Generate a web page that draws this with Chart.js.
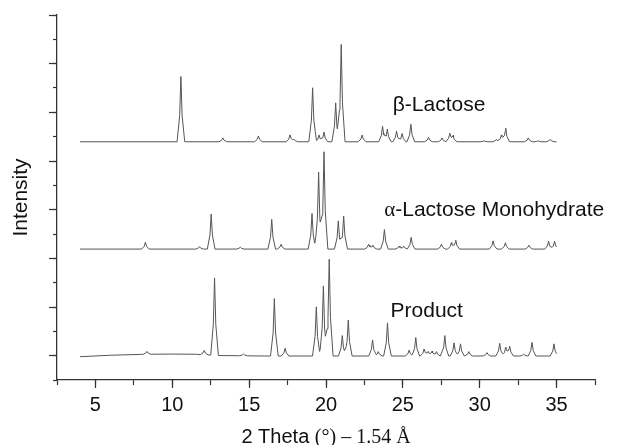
<!DOCTYPE html>
<html>
<head>
<meta charset="utf-8">
<script src="https://cdn.jsdelivr.net/npm/chart.js@4.4.1/dist/chart.umd.min.js"></script>
<style>
  html, body { margin: 0; padding: 0; background: #fff; }
  #wrap { width: 617px; height: 445px; }
</style>
</head>
<body>
<div id="wrap"><canvas id="xrdChart"></canvas></div>
<script>
// scan range (2 theta, degrees)
const scanStart = 4;
const scanEnd = 35;

// peak positions (2 theta) and heights (strongest peak ~ 100)
const productPeaks   = [8.35, 12.08, 12.75, 14.63, 16.64, 17.34, 19.37, 19.83, 20.21, 21.06, 21.45, 23.03, 23.40, 24.00, 25.41, 25.84, 26.38, 26.64, 26.90, 27.19, 27.73, 28.33, 28.75, 29.29, 30.47, 31.30, 31.69, 31.95, 32.86, 33.40, 34.83];
const productHeights = [3, 4.5, 79.5, 2, 59, 8, 50.5, 72, 99.5, 21, 37, 16.5, 4.5, 34, 6, 19, 7, 4.5, 5, 4.5, 21, 13.5, 12.5, 4.5, 3.5, 13, 9, 10, 2, 14, 12.5];
// product background (slight amorphous hump at low angle)
const productBgX = [4, 6, 8, 10, 11.5, 13, 16, 35];
const productBgY = [-0.7, 0.8, 1.7, 2, 1.8, 0.5, 0, 0];

const alphaPeaks   = [8.25, 11.77, 12.53, 14.42, 16.47, 17.08, 19.09, 19.52, 19.87, 20.80, 21.15, 22.77, 23.05, 23.80, 24.75, 25.06, 25.54, 27.51, 28.16, 28.44, 30.87, 31.67, 33.20, 34.48, 34.87];
const alphaHeights = [7, 2.5, 36, 2, 30.5, 5, 36.5, 79, 100, 29, 34, 5, 4, 20, 3, 3, 12, 5, 6.5, 9, 8.5, 6.5, 4, 8, 8];

const betaPeaks   = [10.56, 13.29, 15.60, 17.66, 17.92, 19.13, 19.55, 19.87, 20.63, 20.99, 22.35, 23.68, 23.99, 24.59, 24.95, 25.52, 26.67, 27.55, 28.05, 28.27, 30.28, 31.08, 31.41, 31.69, 33.16, 33.79, 34.58];
const betaHeights = [67, 4, 6, 7, 2.5, 55.5, 7, 10, 40, 100, 7, 16, 13, 11, 8.5, 18, 4.5, 4, 8.5, 6, 1, 2.5, 7, 14, 4, 1, 2.5];

const flatBgX = [4, 35];
const flatBgY = [0, 0];

const traceNames = ['Product', 'α-Lactose Monohydrate', 'β-Lactose'];
const traceOffsets = [0.986, 5.38, 9.79];   // stacking offset, axis units
const countsPerUnit = 25;

const xTickLabels = [5, 10, 15, 20, 25, 30, 35];
const yMajorTicks = [1, 3, 5, 7, 9, 11, 13, 15];

// peak profile (narrow tip, wider foot)
const shapeDx = [-0.25, -0.08, 0, 0.08, 0.25];
const shapeFrac = [0, 0.4, 1, 0.4, 0];

const SANS = "'Liberation Sans', Arial, sans-serif";
const SERIF = "'Liberation Serif', 'Times New Roman', serif";
const lineColor = '#555';
const axisColor = '#333';

function lerp(xs, ys, x, outside) {
    if (x <= xs[0]) return outside !== undefined && x < xs[0] ? outside : ys[0];
    if (x >= xs[xs.length - 1]) return outside !== undefined && x > xs[xs.length - 1] ? outside : ys[ys.length - 1];
    for (let i = 1; i < xs.length; i++) {
        if (x <= xs[i]) {
            const t = (x - xs[i - 1]) / (xs[i] - xs[i - 1]);
            return ys[i - 1] + t * (ys[i] - ys[i - 1]);
        }
    }
    return ys[ys.length - 1];
}

function buildTrace(peaks, heights, bgX, bgY, offset) {
    const xs = new Set(bgX);
    peaks.forEach(p => shapeDx.forEach(d => xs.add(+(p + d).toFixed(3))));
    const sorted = [...xs].filter(x => x >= scanStart && x <= scanEnd).sort((a, b) => a - b);
    return sorted.map(x => {
        let v = lerp(bgX, bgY, x);
        peaks.forEach((p, i) => { v += heights[i] * lerp(shapeDx, shapeFrac, x - p, 0); });
        return { x: x, y: offset + v / countsPerUnit };
    });
}

const traces = [
    buildTrace(productPeaks, productHeights, productBgX, productBgY, traceOffsets[0]),
    buildTrace(alphaPeaks, alphaHeights, flatBgX, flatBgY, traceOffsets[1]),
    buildTrace(betaPeaks, betaHeights, flatBgX, flatBgY, traceOffsets[2])
];

// where the trace names sit (2 theta, axis units at text baseline)
const labelAnchors = [[24.2, 2.6], [23.79, 6.74], [24.34, 11.05]];

function drawMixed(ctx, parts, x, y, align) {
    let total = 0;
    parts.forEach(p => { ctx.font = p.font; p.w = ctx.measureText(p.text).width; total += p.w; });
    let cx = align === 'center' ? x - total / 2 : x;
    parts.forEach(p => {
        ctx.font = p.font;
        ctx.fillText(p.text, cx, y);
        cx += p.w;
    });
}

const textPlugin = {
    id: 'xrdText',
    afterDraw(chart) {
        const ctx = chart.ctx;
        const xs = chart.scales.x;
        const ys = chart.scales.y;
        ctx.save();
        ctx.fillStyle = '#111';
        ctx.textBaseline = 'alphabetic';
        ctx.textAlign = 'left';
        traceNames.forEach((name, i) => {
            const px = xs.getPixelForValue(labelAnchors[i][0]);
            const py = ys.getPixelForValue(labelAnchors[i][1]);
            let parts;
            if (name.startsWith('α')) {
                parts = [{ text: 'α', font: '21px ' + SERIF }, { text: name.slice(1), font: '21px ' + SANS }];
            } else {
                parts = [{ text: name, font: '21px ' + SANS }];
            }
            drawMixed(ctx, parts, px, py, 'left');
        });
        // x axis title, sans + serif like the original
        const area = chart.chartArea;
        drawMixed(ctx, [
            { text: '2 Theta ', font: '20px ' + SANS },
            { text: '(°) – 1.54 Å', font: '20px ' + SERIF }
        ], (area.left + area.right) / 2, chart.height - 2, 'center');
        ctx.restore();
    }
};

const ctx = document.getElementById('xrdChart').getContext('2d');
new Chart(ctx, {
    type: 'line',
    data: {
        datasets: traces.map((t, i) => ({
            label: traceNames[i],
            data: t,
            xAxisID: 'x',
            yAxisID: 'y',
            borderColor: lineColor,
            borderWidth: 1,
            pointRadius: 0,
            tension: 0,
            fill: false
        }))
    },
    options: {
        responsive: true,
        maintainAspectRatio: false,
        animation: false,
        layout: { padding: { top: 15, right: 22, left: 0, bottom: 0 } },
        plugins: { legend: { display: false }, tooltip: { enabled: false } },
        scales: {
            x: {
                type: 'linear', position: 'bottom', min: 2.5, max: 37.5,
                ticks: { display: false, stepSize: 2.5, autoSkip: false },
                grid: { drawOnChartArea: false, tickLength: 5, color: axisColor, tickWidth: 1.2 },
                border: { display: true, color: axisColor, width: 1.3 },
                afterFit: s => { s.height = 0; }
            },
            x2: {
                type: 'linear', position: 'bottom', weight: 1, min: 2.5, max: 37.5,
                afterBuildTicks: s => { s.ticks = xTickLabels.map(v => ({ value: v })); },
                ticks: { autoSkip: false, maxRotation: 0, padding: 5, color: '#111', font: { family: SANS, size: 20 } },
                grid: { drawOnChartArea: false, tickLength: 8, color: axisColor, tickWidth: 1.2 },
                border: { display: false },
                afterFit: s => { s.height = 65; }
            },
            y: {
                type: 'linear', position: 'left', min: 0, max: 15,
                ticks: { display: false, stepSize: 1, autoSkip: false },
                grid: { drawOnChartArea: false, tickLength: 4, color: axisColor, tickWidth: 1.2 },
                border: { display: true, color: axisColor, width: 1.3 },
                afterFit: s => { s.width = 0; }
            },
            y2: {
                type: 'linear', position: 'left', weight: 1, min: 0, max: 15,
                afterBuildTicks: s => { s.ticks = yMajorTicks.map(v => ({ value: v })); },
                ticks: { display: false, autoSkip: false },
                grid: { drawOnChartArea: false, tickLength: 8, color: axisColor, tickWidth: 1.2 },
                border: { display: false },
                title: { display: true, text: 'Intensity', color: '#111', font: { family: SANS, size: 21 }, padding: { top: 9, bottom: 0 } },
                afterFit: s => { s.width = 57; }
            }
        }
    },
    plugins: [textPlugin]
});
</script>
</body>
</html>
